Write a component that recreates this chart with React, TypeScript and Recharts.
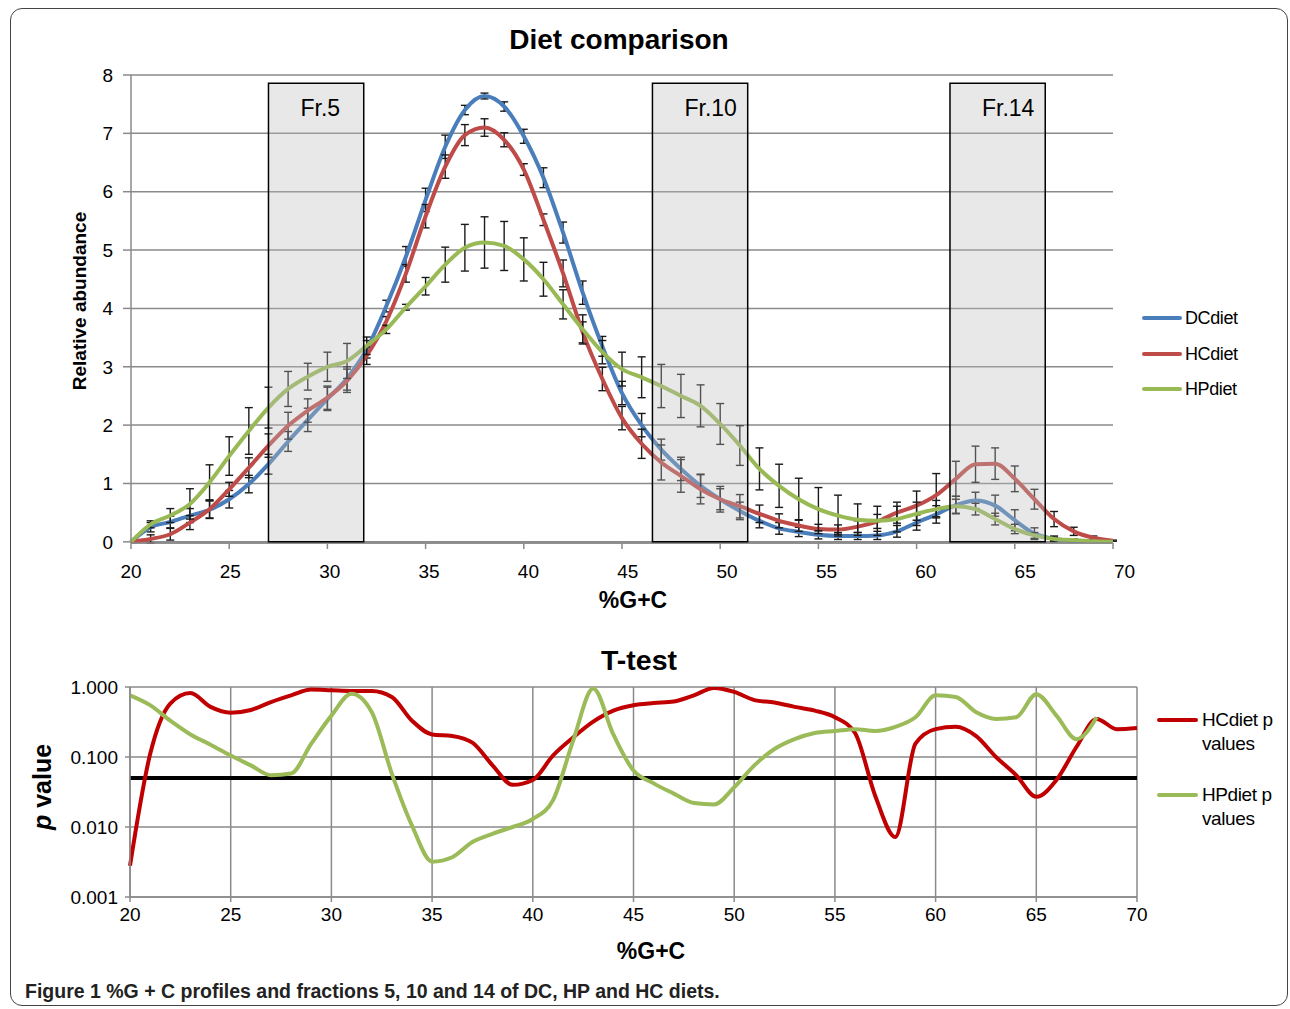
import React from "react";
import {
  LineChart,
  Line,
  XAxis,
  YAxis,
  CartesianGrid,
  ErrorBar,
  ReferenceArea,
  ReferenceLine,
  Label,
} from "recharts";

const FONT = '"Liberation Sans", Arial, Helvetica, sans-serif';

// %G+C categories, one point per percent
const gcValues = [
  20, 21, 22, 23, 24, 25, 26, 27, 28, 29, 30, 31, 32, 33, 34, 35, 36, 37, 38, 39, 40, 41, 42, 43,
  44, 45, 46, 47, 48, 49, 50, 51, 52, 53, 54, 55, 56, 57, 58, 59, 60, 61, 62, 63, 64, 65, 66, 67,
  68, 69, 70,
];

// relative abundance profiles
const dcDiet = [
  0, 0.25, 0.34, 0.45, 0.55, 0.73, 0.99, 1.33, 1.72, 2.09, 2.45, 2.8, 3.3, 4.04, 4.89, 5.86, 6.77,
  7.4, 7.64, 7.46, 6.95, 6.24, 5.3, 4.27, 3.35, 2.55, 2.0, 1.58, 1.25, 0.96, 0.73, 0.53, 0.36, 0.23,
  0.17, 0.12, 0.1, 0.1, 0.11, 0.18, 0.33, 0.47, 0.63, 0.71, 0.62, 0.37, 0.14, 0.05, 0.02, 0.01, 0,
];
const hcDiet = [
  0, 0.05, 0.13, 0.33, 0.56, 0.9, 1.27, 1.65, 1.99, 2.25, 2.47, 2.76, 3.19, 3.78, 4.6, 5.58, 6.43,
  6.97, 7.1, 6.89, 6.38, 5.52, 4.6, 3.59, 2.79, 2.12, 1.68, 1.36, 1.13, 0.9, 0.73, 0.61, 0.48, 0.36,
  0.28, 0.22, 0.21, 0.26, 0.35, 0.5, 0.62, 0.8, 1.08, 1.33, 1.34, 1.08, 0.73, 0.39, 0.18, 0.07, 0.02,
];
const hpDiet = [
  0, 0.3, 0.45, 0.65, 1.02, 1.47, 1.9, 2.3, 2.62, 2.83, 3.0, 3.1, 3.36, 3.64, 4.02, 4.38, 4.75, 5.04,
  5.13, 5.07, 4.84, 4.5, 4.07, 3.64, 3.25, 2.96, 2.82, 2.67, 2.5, 2.33, 2.02, 1.65, 1.25, 0.96, 0.73,
  0.56, 0.45, 0.38, 0.36, 0.39, 0.48, 0.56, 0.61, 0.56, 0.39, 0.22, 0.11, 0.05, 0.03, 0.01, 0,
];

// standard deviations (error bars)
const dcErr = [
  0, 0.08, 0.1, 0.12, 0.15, 0.15, 0.15, 0.17, 0.17, 0.2, 0.2, 0.2, 0.15, 0.1, 0.17, 0.2, 0.2, 0.08,
  0.05, 0.08, 0.12, 0.17, 0.18, 0.2, 0.17, 0.2, 0.2, 0.18, 0.2, 0.2, 0.18, 0.15, 0.12, 0.1, 0.08, 0.07,
  0.06, 0.06, 0.07, 0.1, 0.13, 0.15, 0.15, 0.14, 0.18, 0.18, 0.1, 0.05, 0.02, 0.01, 0,
];
const hcErr = [
  0, 0.07, 0.1, 0.12, 0.15, 0.12, 0.17, 0.2, 0.23, 0.2, 0.2, 0.2, 0.15, 0.08, 0.15, 0.2, 0.2, 0.18,
  0.15, 0.12, 0.1, 0.1, 0.23, 0.18, 0.2, 0.2, 0.25, 0.3, 0.28, 0.25, 0.22, 0.2, 0.15, 0.12, 0.1, 0.08,
  0.08, 0.1, 0.12, 0.18, 0.25, 0.37, 0.3, 0.31, 0.27, 0.22, 0.17, 0.13, 0.07, 0.03, 0.01,
];
const hpErr = [
  0, 0.06, 0.12, 0.26, 0.3, 0.33, 0.4, 0.35, 0.3, 0.23, 0.25, 0.3, 0.15, 0.07, 0.05, 0.15, 0.3, 0.4,
  0.44, 0.42, 0.37, 0.29, 0.25, 0.25, 0.2, 0.29, 0.35, 0.37, 0.37, 0.36, 0.35, 0.34, 0.36, 0.37, 0.36,
  0.37, 0.35, 0.27, 0.25, 0.22, 0.2, 0.15, 0.12, 0.1, 0.1, 0.08, 0.05, 0.03, 0.02, 0.01, 0,
];

// t-test p values
const hcPValues = [
  0.0028, 0.11, 0.58, 0.82, 0.52, 0.43, 0.47, 0.61, 0.76, 0.92, 0.9, 0.88, 0.88, 0.72, 0.33, 0.21,
  0.2, 0.16, 0.076, 0.04, 0.047, 0.105, 0.19, 0.32, 0.46, 0.55, 0.59, 0.62, 0.76, 0.97, 0.85, 0.65,
  0.6, 0.52, 0.46, 0.37, 0.22, 0.028, 0.0072, 0.155, 0.25, 0.27, 0.2, 0.1, 0.055, 0.027, 0.047, 0.14,
  0.35, 0.25, 0.26,
];
const hpPValues = [
  0.76, 0.55, 0.33, 0.21, 0.15, 0.105, 0.076, 0.055, 0.058, 0.155, 0.39, 0.8, 0.44, 0.058, 0.0105,
  0.0032, 0.0037, 0.0061, 0.008, 0.01, 0.013, 0.024, 0.17, 0.95, 0.21, 0.064, 0.042, 0.03, 0.022,
  0.021, 0.037, 0.076, 0.13, 0.18, 0.22, 0.235, 0.25, 0.235, 0.27, 0.37, 0.76, 0.72, 0.44, 0.35, 0.37,
  0.79, 0.39, 0.18, 0.37, null, null,
];

const fractions = [
  { name: "Fr.5", from: 27, to: 31.85 },
  { name: "Fr.10", from: 46.55, to: 51.4 },
  { name: "Fr.14", from: 61.7, to: 66.55 },
];

const xTicks = [20, 25, 30, 35, 40, 45, 50, 55, 60, 65, 70];
const abundanceTicks = [0, 1, 2, 3, 4, 5, 6, 7, 8];
const pTicks = [0.001, 0.01, 0.1, 1];
const SIGNIFICANCE = 0.05;

const profileData = gcValues.map((gc, i) => ({
  gc,
  dc: dcDiet[i],
  dcErr: dcErr[i],
  hc: hcDiet[i],
  hcErr: hcErr[i],
  hp: hpDiet[i],
  hpErr: hpErr[i],
}));

const pData = gcValues.map((gc, i) => ({
  gc,
  hcP: hcPValues[i],
  hpP: hpPValues[i],
}));

const GRID = "#8a8a8a";
const tickStyle = { fill: "#000", fontSize: 19, fontFamily: FONT };

// Excel spreads the category labels a little wider than the tick marks
function SpreadTick({ x, y, payload }: any) {
  return (
    <text
      x={x + (payload.value - 20) * 0.23}
      y={y}
      dy={27}
      textAnchor="middle"
      fontFamily={FONT}
      fontSize={19}
      fill="#000"
    >
      {payload.value}
    </text>
  );
}

function AxisTitle({ x, y, size, rotate, children }: any) {
  return (
    <text
      x={x}
      y={y}
      transform={rotate ? `rotate(-90 ${x} ${y})` : undefined}
      textAnchor="middle"
      dominantBaseline={rotate ? "central" : undefined}
      fontFamily={FONT}
      fontWeight="bold"
      fontSize={size}
      fill="#000"
    >
      {children}
    </text>
  );
}

function LegendRow({ color, top, left, lineWidth, labels, gap, size }: any) {
  return (
    <div style={{ position: "absolute", left, top, display: "flex", alignItems: "flex-start" }}>
      <div
        style={{
          width: lineWidth,
          height: 4,
          background: color,
          borderRadius: 2,
          marginTop: 10,
          marginRight: gap,
        }}
      />
      <div style={{ fontFamily: FONT, fontSize: size, lineHeight: "24px", letterSpacing: -0.4 }}>
        {labels.map((l: string) => (
          <div key={l}>{l}</div>
        ))}
      </div>
    </div>
  );
}

export default function App() {
  return (
    <div
      style={{
        position: "absolute",
        left: 0,
        top: 0,
        width: 1290,
        height: 1009,
        background: "#fff",
        overflow: "hidden",
      }}
    >
      <div
        style={{
          position: "absolute",
          left: 10,
          top: 8,
          width: 1276,
          height: 996,
          border: "1.5px solid #444",
          borderRadius: 12,
        }}
      />

      {/* Diet comparison */}
      <div
        style={{
          position: "absolute",
          left: 319,
          width: 600,
          top: 24,
          textAlign: "center",
          fontFamily: FONT,
          fontWeight: "bold",
          fontSize: 28,
          lineHeight: "32px",
        }}
      >
        Diet comparison
      </div>
      <div style={{ position: "absolute", left: 0, top: 0 }}>
        <LineChart
          width={1290}
          height={620}
          data={profileData}
          margin={{ top: 75, right: 177, bottom: 0, left: 71 }}
        >
          <CartesianGrid vertical={false} stroke={GRID} strokeWidth={1.5} />
          <XAxis
            dataKey="gc"
            type="number"
            domain={[20, 70]}
            ticks={xTicks}
            height={77}
            stroke={GRID}
            strokeWidth={1.5}
            tickSize={6}
            tickMargin={2}
            tick={<SpreadTick />}
          >
            <Label
              content={() => (
                <AxisTitle x={633} y={608} size={23}>
                  %G+C
                </AxisTitle>
              )}
            />
          </XAxis>
          <YAxis
            domain={[0, 8]}
            ticks={abundanceTicks}
            width={60}
            stroke={GRID}
            strokeWidth={1.5}
            tickSize={8}
            tickMargin={10}
            tick={tickStyle}
          >
            <Label
              content={() => (
                <AxisTitle x={79} y={301} size={19} rotate>
                  Relative abundance
                </AxisTitle>
              )}
            />
          </YAxis>
          <Line
            dataKey="dc"
            type="monotone"
            stroke="#4A7EBB"
            strokeWidth={4}
            dot={false}
            isAnimationActive={false}
          >
            <ErrorBar dataKey="dcErr" direction="y" width={4} stroke="#1a1a1a" strokeWidth={1.4} isAnimationActive={false} />
          </Line>
          <Line
            dataKey="hc"
            type="monotone"
            stroke="#BE4B48"
            strokeWidth={4}
            dot={false}
            isAnimationActive={false}
          >
            <ErrorBar dataKey="hcErr" direction="y" width={4} stroke="#1a1a1a" strokeWidth={1.4} isAnimationActive={false} />
          </Line>
          <Line
            dataKey="hp"
            type="monotone"
            stroke="#98B954"
            strokeWidth={4}
            dot={false}
            isAnimationActive={false}
          >
            <ErrorBar dataKey="hpErr" direction="y" width={4} stroke="#1a1a1a" strokeWidth={1.4} isAnimationActive={false} />
          </Line>
          {fractions.map((f) => (
            <ReferenceArea
              key={f.name}
              x1={f.from}
              x2={f.to}
              y1={0}
              y2={7.86}
              fill="#bdbdbd"
              fillOpacity={0.35}
              stroke="#000"
              strokeWidth={1.5}
              zIndex={1000}
              label={(props: any) => (
                <text
                  x={props.viewBox.x + 32}
                  y={props.viewBox.y + 33}
                  fontFamily={FONT}
                  fontSize={23}
                  fill="#000"
                >
                  {f.name}
                </text>
              )}
            />
          ))}
        </LineChart>
      </div>

      <LegendRow color="#4A7EBB" top={306} left={1142} lineWidth={40} gap={3} size={18} labels={["DCdiet"]} />
      <LegendRow color="#BE4B48" top={342} left={1142} lineWidth={40} gap={3} size={18} labels={["HCdiet"]} />
      <LegendRow color="#98B954" top={377} left={1142} lineWidth={40} gap={3} size={18} labels={["HPdiet"]} />

      {/* T-test */}
      <div
        style={{
          position: "absolute",
          left: 339,
          width: 600,
          top: 644,
          textAlign: "center",
          fontFamily: FONT,
          fontWeight: "bold",
          fontSize: 28.5,
          lineHeight: "33px",
        }}
      >
        T-test
      </div>
      <div style={{ position: "absolute", left: 0, top: 630 }}>
        <LineChart
          width={1290}
          height={345}
          data={pData}
          margin={{ top: 57, right: 153, bottom: 0, left: 60 }}
        >
          <CartesianGrid stroke={GRID} strokeWidth={1.5} />
          <XAxis
            dataKey="gc"
            type="number"
            domain={[20, 70]}
            ticks={xTicks}
            height={78}
            stroke={GRID}
            strokeWidth={1.5}
            tickSize={5}
            tickMargin={6}
            tick={tickStyle}
          >
            <Label
              content={() => (
                <AxisTitle x={651} y={329} size={23}>
                  %G+C
                </AxisTitle>
              )}
            />
          </XAxis>
          <YAxis
            scale="log"
            type="number"
            domain={[0.001, 1]}
            allowDataOverflow
            ticks={pTicks}
            tickFormatter={(v: number) => v.toFixed(3)}
            width={70}
            stroke={GRID}
            strokeWidth={1.5}
            tickSize={5}
            tickMargin={7}
            tick={tickStyle}
          >
            <Label
              content={() => (
                <AxisTitle x={42} y={157} size={25} rotate>
                  <tspan fontStyle="italic">p</tspan> value
                </AxisTitle>
              )}
            />
          </YAxis>
          <ReferenceLine y={SIGNIFICANCE} stroke="#000" strokeWidth={4} />
          <Line
            dataKey="hcP"
            type="monotone"
            stroke="#C00000"
            strokeWidth={4}
            dot={false}
            isAnimationActive={false}
          />
          <Line
            dataKey="hpP"
            type="monotone"
            stroke="#9BBB59"
            strokeWidth={4}
            dot={false}
            isAnimationActive={false}
          />
        </LineChart>
      </div>

      <LegendRow color="#C00000" top={708} left={1157} lineWidth={41} gap={4} size={19} labels={["HCdiet p", "values"]} />
      <LegendRow color="#9BBB59" top={783} left={1157} lineWidth={41} gap={4} size={19} labels={["HPdiet p", "values"]} />

      <div
        style={{
          position: "absolute",
          left: 25,
          top: 981,
          fontFamily: FONT,
          fontSize: 19.5,
          lineHeight: "20px",
          fontWeight: "bold",
          color: "#222",
          whiteSpace: "nowrap",
        }}
      >
        Figure 1 %G + C profiles and fractions 5, 10 and 14 of DC, HP and HC diets.
      </div>
    </div>
  );
}
